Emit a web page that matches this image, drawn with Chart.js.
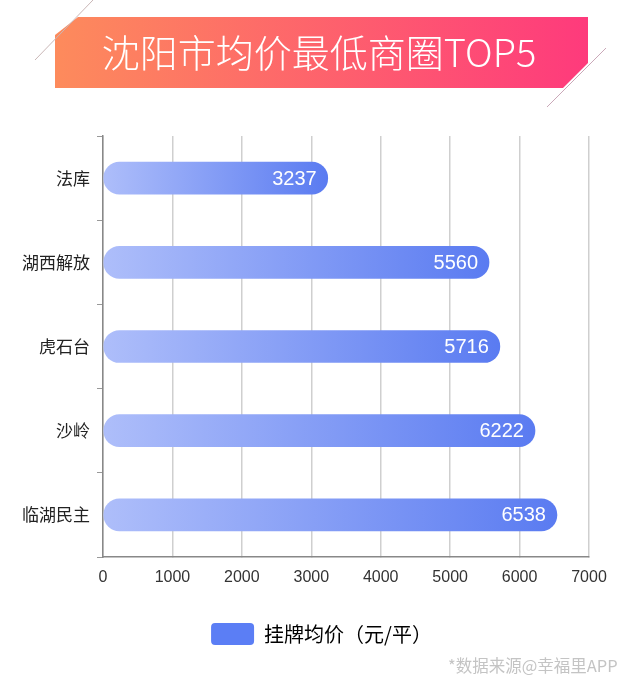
<!DOCTYPE html>
<html>
<head>
<meta charset="utf-8">
<script src="https://cdn.jsdelivr.net/npm/chart.js@4/dist/chart.umd.min.js"></script>
<style>
  html, body { margin: 0; padding: 0; background: #fff; }
  #wrap { position: relative; width: 640px; height: 689px; overflow: hidden; }
  #c { position: absolute; left: 0; top: 0; }
  #banner { position: absolute; left: 0; top: 0; }
  #wm { position: absolute; left: 448px; top: 653px; font: 16.5px "Noto Sans CJK SC", sans-serif; color: #c4c4c4; white-space: nowrap; }
</style>
</head>
<body>
<div id="wrap">
  <canvas id="c" width="640" height="689"></canvas>
  <svg id="banner" width="640" height="120" xmlns="http://www.w3.org/2000/svg">
    <defs>
      <linearGradient id="bg" x1="0" y1="0" x2="1" y2="0">
        <stop offset="0" stop-color="#fd8b5c"/>
        <stop offset="1" stop-color="#fe3a7c"/>
      </linearGradient>
    </defs>
    <polygon points="78,17 588,17 588,63 563,88 55,88 55,35" fill="url(#bg)"/>
    <line x1="93" y1="0" x2="35" y2="60" stroke="#c9b6b6" stroke-width="1"/>
    <line x1="606" y1="48" x2="547" y2="107" stroke="#c9a8b8" stroke-width="1"/>
    <text x="319" y="67" text-anchor="middle" fill="#ffffff" font-family="Noto Sans CJK SC, sans-serif" font-weight="300" font-size="38">沈阳市均价最低商圈TOP5</text>
  </svg>
  <div id="wm">*数据来源@幸福里APP</div>
</div>
<script>
const categories = ['法库', '湖西解放', '虎石台', '沙岭', '临湖民主'];
const values = [3237, 5560, 5716, 6222, 6538];
const xTicks = [0, 1000, 2000, 3000, 4000, 5000, 6000, 7000];
const seriesName = '挂牌均价（元/平）';

const valueLabels = {
  id: 'valueLabels',
  afterDatasetsDraw(chart) {
    const ctx = chart.ctx;
    const meta = chart.getDatasetMeta(0);
    ctx.save();
    ctx.fillStyle = '#ffffff';
    ctx.font = '20px "Liberation Sans", Arial, sans-serif';
    ctx.textAlign = 'right';
    ctx.textBaseline = 'middle';
    meta.data.forEach((el, i) => {
      ctx.fillText(String(values[i]), el.x - 11, el.y + 1);
    });
    ctx.restore();
  }
};

const legendShift = {
  id: 'legendShift',
  afterLayout(chart) {
    const lg = chart.legend;
    if (!lg) return;
    lg.left += 27; lg.right += 27;
    lg.top -= 2; lg.bottom -= 2;
  }
};

new Chart(document.getElementById('c'), {
  type: 'bar',
  data: {
    labels: categories,
    datasets: [{
      label: seriesName,
      data: values,
      barThickness: 32,
      borderRadius: 16,
      borderSkipped: false,
      backgroundColor: (c) => {
        const chart = c.chart;
        const xs = chart.scales && chart.scales.x;
        if (c.type !== 'data' || !xs) return '#5b7ef5';
        const x0 = xs.getPixelForValue(0);
        const x1 = xs.getPixelForValue(c.raw);
        if (!isFinite(x0) || !isFinite(x1) || x1 <= x0) return '#7b96f5';
        const g = chart.ctx.createLinearGradient(x0, 0, x1, 0);
        g.addColorStop(0, '#aebefa');
        g.addColorStop(1, '#5a7bf1');
        return g;
      }
    }]
  },
  options: {
    indexAxis: 'y',
    responsive: false,
    animation: false,
    layout: { padding: { top: 136, left: 0, right: 51, bottom: 32 } },
    scales: {
      x: {
        min: 0, max: 7000,
        afterBuildTicks: (s) => { s.ticks = xTicks.map(v => ({ value: v })); },
        afterFit: (s) => { s.height = 44; },
        grid: { color: '#cfcfcf', lineWidth: 1.5, tickLength: 0 },
        border: { color: '#888888', width: 1.5 },
        ticks: {
          color: '#333333', padding: 11,
          font: { size: 16, family: '"Liberation Sans", Arial, sans-serif' },
          callback: (v) => String(v)
        }
      },
      y: {
        afterFit: (s) => { s.width = 103; },
        grid: { display: true, drawOnChartArea: false, offset: true, tickLength: 6, color: '#999999' },
        border: { color: '#888888', width: 1.5 },
        ticks: { color: '#222222', padding: 7, font: { size: 17, family: '"Noto Sans CJK SC", sans-serif' } }
      }
    },
    plugins: {
      legend: {
        position: 'bottom',
        labels: {
          boxWidth: 43, boxHeight: 22, useBorderRadius: true, borderRadius: 4,
          padding: 24, color: '#333333',
          font: { size: 20, family: '"Noto Sans CJK SC", sans-serif' },
          generateLabels: (chart) => [{
            text: seriesName,
            fillStyle: '#5b7ef5',
            strokeStyle: '#5b7ef5',
            lineWidth: 0,
            borderRadius: 4,
            hidden: false,
            datasetIndex: 0
          }]
        }
      },
      tooltip: { enabled: false }
    }
  },
  plugins: [valueLabels, legendShift]
});
</script>
</body>
</html>
